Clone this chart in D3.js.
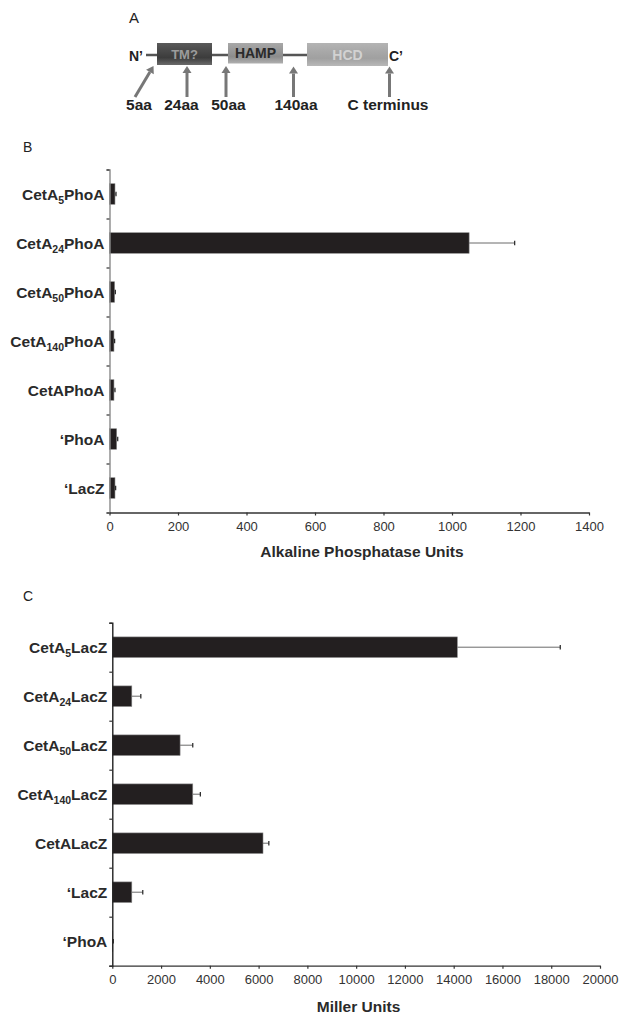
<!DOCTYPE html>
<html><head><meta charset="utf-8">
<script src="https://cdn.jsdelivr.net/npm/d3@7"></script>
<style>html,body{margin:0;padding:0;background:#fff;}svg{display:block;font-family:"Liberation Sans",Arial,sans-serif;}</style>
</head><body>
<script>
// ---------- DATA ----------
// Panel B: Alkaline phosphatase
const phoaCats = [["CetA","5","PhoA"],["CetA","24","PhoA"],["CetA","50","PhoA"],["CetA","140","PhoA"],["CetAPhoA","",""],["\u2018PhoA","",""],["\u2018LacZ","",""]];
const phoaVals = [16, 1050, 15, 13, 13, 21, 16];
const phoaErr  = [3, 133, 2, 2, 3, 3, 2];
const phoaTicks = [0,200,400,600,800,1000,1200,1400];
// Panel C: Miller units
const lacCats = [["CetA","5","LacZ"],["CetA","24","LacZ"],["CetA","50","LacZ"],["CetA","140","LacZ"],["CetALacZ","",""],["\u2018LacZ","",""],["\u2018PhoA","",""]];
const lacVals = [14150, 800, 2780, 3300, 6180, 800, 20];
const lacErr  = [4220, 370, 520, 310, 240, 450, 20];
const lacTicks = [0,2000,4000,6000,8000,10000,12000,14000,16000,18000,20000];
// Panel A: schematic
const domainNames = ["TM?","HAMP","HCD"];
const siteLabels = ["5aa","24aa","50aa","140aa","C terminus"];

const W = 629, H = 1016;
const svg = d3.select("body").append("svg").attr("width",W).attr("height",H);
svg.append("rect").attr("width",W).attr("height",H).attr("fill","#fff");

// ---------- Panel A ----------
const defs = svg.append("defs");
function grad(id, stops){
  const g = defs.append("linearGradient").attr("id",id).attr("x1",0).attr("y1",0).attr("x2",0).attr("y2",1);
  stops.forEach((c,i)=>g.append("stop").attr("offset",(i/(stops.length-1))).attr("stop-color",c));
}
grad("gTM",["#5a5a5a","#4a4a4a","#3c3c3c","#6a6a6a"]);
grad("gHAMP",["#a8a8a8","#9a9a9a","#8c8c8c","#b0b0b0"]);
grad("gHCD",["#b4b4b4","#a9a9a9","#a0a0a0","#b8b8b8"]);

const A = svg.append("g");
A.append("text").attr("x",129).attr("y",23).attr("font-size",15).attr("fill","#222").text("A");
A.append("line").attr("x1",146).attr("x2",308).attr("y1",55).attr("y2",55).attr("stroke","#555").attr("stroke-width",2.5);
const boxes = [
  {x:157,y:43,w:55,h:22,fill:"url(#gTM)",tc:"#9c9c9c",fs:13},
  {x:228,y:43,w:55,h:20.5,fill:"url(#gHAMP)",tc:"#2a2a2a",fs:14},
  {x:307,y:43,w:81,h:23,fill:"url(#gHCD)",tc:"#d2d2d2",fs:14}
];
boxes.forEach((b,i)=>{
  A.append("rect").attr("x",b.x).attr("y",b.y).attr("width",b.w).attr("height",b.h).attr("fill",b.fill);
  A.append("text").attr("x",b.x+b.w/2).attr("y",b.y+b.h/2+5).attr("text-anchor","middle")
    .attr("font-weight","bold").attr("font-size",b.fs).attr("fill",b.tc).text(domainNames[i]);
});
A.append("text").attr("x",143).attr("y",60.5).attr("text-anchor","end").attr("font-weight","bold").attr("font-size",14).attr("fill","#222").text("N\u2019");
A.append("text").attr("x",389).attr("y",60.5).attr("font-weight","bold").attr("font-size",14).attr("fill","#222").text("C\u2019");
const arrows = [[135,97,153.5,66],[187,97,187,66],[226,97,226,66],[293.5,97,293.5,66.5],[389.5,97,389.5,66.5]];
const labelX = [139,181.5,228.5,296,388];
arrows.forEach((a,i)=>{
  const ang = Math.atan2(a[3]-a[1],a[2]-a[0]);
  const hl = 7, hw = 4.5;
  const bx = a[2]-hl*Math.cos(ang), by = a[3]-hl*Math.sin(ang);
  A.append("line").attr("x1",a[0]).attr("y1",a[1]).attr("x2",bx).attr("y2",by).attr("stroke","#777").attr("stroke-width",3);
  const px = -Math.sin(ang), py = Math.cos(ang);
  A.append("path").attr("d",`M${a[2]},${a[3]}L${bx+px*hw},${by+py*hw}L${bx-px*hw},${by-py*hw}Z`).attr("fill","#777");
  A.append("text").attr("x",labelX[i]).attr("y",109.5).attr("text-anchor","middle").attr("font-weight","bold")
    .attr("font-size",15.5).attr("fill","#222").text(siteLabels[i]);
});

// ---------- bar panels ----------
function barPanel(o){
  const g = svg.append("g");
  g.append("text").attr("x",23).attr("y",o.letterY).attr("font-size",14).attr("fill","#222").text(o.letter);
  const x = d3.scaleLinear().domain([0,o.max]).range([o.x0,o.x1]);
  const y = d3.scaleBand().domain(d3.range(o.cats.length)).range([o.y0,o.y1]).paddingInner(0.58).paddingOuter(0.29);
  const tk = d3.scaleLinear().domain([0,o.cats.length]).range([o.y0,o.y1]);
  // bars
  g.selectAll("rect.bar").data(o.vals).join("rect").attr("class","bar")
    .attr("x",x(0)).attr("y",(d,i)=>y(i)).attr("width",d=>x(d)-x(0)).attr("height",y.bandwidth())
    .attr("fill","#231f20").attr("stroke","#8a8a8a").attr("stroke-width",0.6);
  // error bars
  o.vals.forEach((v,i)=>{
    const cy = y(i)+y.bandwidth()/2;
    g.append("line").attr("x1",x(v)).attr("x2",x(v+o.err[i])).attr("y1",cy).attr("y2",cy).attr("stroke","#6a6a6a").attr("stroke-width",1);
    g.append("line").attr("x1",x(v+o.err[i])).attr("x2",x(v+o.err[i])).attr("y1",cy-2.2).attr("y2",cy+2.2).attr("stroke","#222").attr("stroke-width",1.2);
  });
  // left axis
  const la = g.append("g").attr("transform",`translate(${o.x0},0)`)
    .call(d3.axisLeft(tk).tickValues(d3.range(o.cats.length+1)).tickSize(3).tickFormat(""));
  la.select(".domain").attr("stroke",o.vColor).attr("stroke-width",1.4);
  la.selectAll(".tick line").attr("stroke","#333").attr("stroke-width",1.2);
  // bottom axis
  const ba = g.append("g").attr("transform",`translate(0,${o.y1})`)
    .call(d3.axisBottom(x).tickValues(o.ticks).tickFormat(d3.format("d")).tickSize(3).tickSizeOuter(0).tickPadding(6));
  ba.select(".domain").attr("stroke","#333").attr("stroke-width",1.3);
  ba.selectAll(".tick line").attr("stroke","#333").attr("stroke-width",1.2);
  ba.selectAll(".tick text").attr("font-size",13).attr("fill","#333").attr("font-family","Liberation Sans, Arial, sans-serif");
  // category labels
  o.cats.forEach((c,i)=>{
    const cy = y(i)+y.bandwidth()/2;
    const t = g.append("text").attr("x",o.x0-5).attr("y",cy+6).attr("text-anchor","end")
      .attr("font-weight","bold").attr("font-size",15.5).attr("fill","#2a2a2a");
    t.append("tspan").text(c[0]);
    if(c[1]){
      t.append("tspan").attr("font-size",10.5).attr("dy",4).text(c[1]);
      t.append("tspan").attr("dy",-4).text(c[2]);
    }
  });
  g.append("text").attr("x",o.titleX).attr("y",o.titleY).attr("text-anchor","middle")
    .attr("font-weight","bold").attr("font-size",15.5).attr("fill","#2a2a2a").text(o.title);
}

barPanel({letter:"B",letterY:152,cats:phoaCats,vals:phoaVals,err:phoaErr,ticks:phoaTicks,max:1400,
  x0:109.5,x1:589,y0:169.5,y1:512.5,vColor:"#8a8a8a",title:"Alkaline Phosphatase Units",titleX:362,titleY:557});
barPanel({letter:"C",letterY:601,cats:lacCats,vals:lacVals,err:lacErr,ticks:lacTicks,max:20000,
  x0:112.3,x1:600,y0:622.7,y1:965.7,vColor:"#222",title:"Miller Units",titleX:358.5,titleY:1011.5});
</script>
</body></html>
